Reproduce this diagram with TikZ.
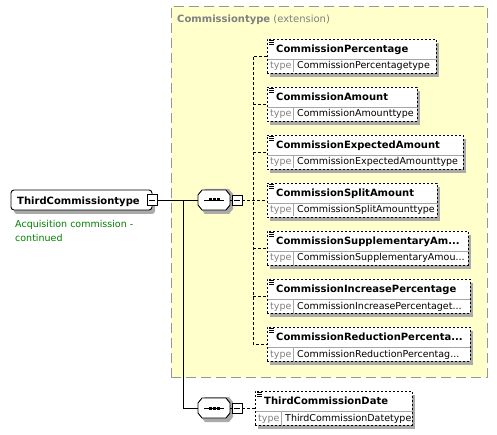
\documentclass[tikz,border=0pt]{standalone}
\usepackage{fontspec}
\setmainfont{DejaVu Sans}
\usetikzlibrary{shadows}
\definecolor{ybg}{RGB}{255,255,204}
\definecolor{ybd}{RGB}{150,150,150}
\definecolor{shd}{RGB}{170,170,170}
\definecolor{tgray}{RGB}{128,128,128}
\definecolor{dgreen}{RGB}{0,128,0}
\tikzset{
  shad/.style={drop shadow={shadow xshift=3pt,shadow yshift=-4pt,fill=shd,opacity=1}},
  ybox/.style={draw=ybd,fill=ybg,line width=0.9pt,dash pattern=on 10pt off 5pt,inner sep=0pt,outer sep=0pt},
  elembox/.style={draw=black,fill=white,line width=0.9pt,dash pattern=on 2pt off 2pt,inner sep=0pt,outer sep=0pt,shad},
  gtbox/.style={draw=black,fill=white,line width=0.9pt,rounded corners=3pt,inner sep=0pt,outer sep=0pt,shad},
  divline/.style={draw=gray!70,line width=0.7pt},
  iconline/.style={draw=black,line width=0.6pt},
  nametext/.style={font=\fontsize{10}{12}\selectfont\bfseries,inner sep=0pt},
  typelbl/.style={font=\fontsize{9.5}{11}\selectfont,text=tgray,inner sep=0pt},
  typetext/.style={font=\fontsize{9.5}{11}\selectfont,inner sep=0pt},
  desctext/.style={font=\fontsize{9.5}{11}\selectfont,text=dgreen,inner sep=0pt},
  minusbox/.style={draw=black,fill=white,line width=0.8pt,minimum width=10pt,minimum height=10pt,inner sep=0pt,outer sep=0pt},
  compnode/.style={minimum width=32pt,minimum height=20pt,inner sep=0pt,outer sep=0pt},
  solidconn/.style={draw=black,line width=0.9pt},
  dashconn/.style={draw=black,line width=0.9pt,dash pattern=on 3pt off 2pt},
}
% element box: id, left, top, right, name, type
\newcommand\elembx[6]{%
  \node[elembox,anchor=north west,minimum width={(#4-#2)*1pt},minimum height=34pt] (#1) at (#2,#3) {};
  \draw[divline] (#2+0.5,#3+20) -- (#4-0.5,#3+20);
  \draw[divline] (#2+26,#3+20) -- (#2+26,#3+33.5);
  \draw[iconline] (#2+2,#3+1.5) -- ++(5,0) (#2+2,#3+3.5) -- ++(5,0) (#2+2,#3+5.5) -- ++(5,0);
  \node[nametext,anchor=base west] (#1n) at (#2+9,#3+13.5) {#5};
  \node[typelbl,anchor=base west] (#1t) at (#2+3,#3+30) {type};
  \node[typetext,anchor=base west] (#1v) at (#2+30,#3+30) {#6};
}
% sequence compositor: id, cx, cy
\newcommand\seqcomp[3]{%
  \fill[shd] (#2-13,#3-6) -- (#2-9,#3-11) -- (#2+15,#3-11) -- (#2+19,#3-6) -- (#2+19,#3+9) -- (#2+15,#3+14) -- (#2-9,#3+14) -- (#2-13,#3+9) -- cycle;
  \node[compnode] (#1) at (#2,#3) {};
  \draw[fill=white,line width=0.9pt] (#2-16,#3-5) -- (#2-12,#3-10) -- (#2+12,#3-10) -- (#2+16,#3-5) -- (#2+16,#3+5) -- (#2+12,#3+10) -- (#2-12,#3+10) -- (#2-16,#3+5) -- cycle;
  \draw[line width=0.9pt] (#2-10,#3) -- (#2+10,#3);
  \fill (#2-5.5,#3-1.5) rectangle ++(3,3);
  \fill (#2-1.5,#3-1.5) rectangle ++(3,3);
  \fill (#2+2.5,#3-1.5) rectangle ++(3,3);
  \node[minusbox] (#1m) at (#2+23,#3) {};
  \draw[line width=0.8pt] (#2+20,#3) -- (#2+26,#3);
  \draw[solidconn] (#1.east) -- (#1m.west);
}
\begin{document}
\begin{tikzpicture}[x=1pt,y=-1pt]
\useasboundingbox (0,0) rectangle (497,435);
% extension box
\node[ybox,anchor=north west,minimum width=316pt,minimum height=371pt] (ext) at (171,6) {};
\node[anchor=base west,inner sep=0pt,text=tgray,font=\fontsize{10}{12}\selectfont] (exttitle) at (177,23) {\textbf{Commissiontype} (extension)};

% main type
\node[gtbox,minimum width=141pt,minimum height=20pt] (tct) at (81.5,200) {};
\node[nametext,anchor=base west] (tctn) at (17,204.5) {ThirdCommissiontype};
\node[minusbox,minimum height=11pt] (tctm) at (152,200) {};
\draw[line width=0.8pt] (149,200) -- (155,200);
\node[desctext,anchor=base west] (desc1) at (15,228) {Acquisition commission -};
\node[desctext,anchor=base west] (desc2) at (15,242) {continued};

% compositors
\seqcomp{q1}{214}{200}
\seqcomp{q2}{214}{408}

% children
\elembx{c1}{267}{39}{436}{CommissionPercentage}{CommissionPercentagetype}
\elembx{c2}{267}{87}{417}{CommissionAmount}{CommissionAmounttype}
\elembx{c3}{267}{135}{463}{CommissionExpectedAmount}{CommissionExpectedAmounttype}
\elembx{c4}{267}{183}{437}{CommissionSplitAmount}{CommissionSplitAmounttype}
\elembx{c5}{267}{231}{468}{CommissionSupplementaryAm...}{CommissionSupplementaryAmou...}
\elembx{c6}{267}{279}{470}{CommissionIncreasePercentage}{CommissionIncreasePercentaget...}
\elembx{c7}{267}{327}{470}{CommissionReductionPercenta...}{CommissionReductionPercentag...}
\elembx{tcd}{255}{391}{412}{ThirdCommissionDate}{ThirdCommissionDatetype}

% connectors
\coordinate (j1) at (183,200);
\coordinate (bus) at (253,200);
\draw[solidconn] (tctm.east) -- (q1.west);
\draw[solidconn] (j1) |- (q2.west);
\draw[dashconn] (q1m.east) -- (c4.west);
\draw[dashconn] (c1.west) -| (bus) |- (c7.west);
\draw[dashconn] (bus |- c2.west) -- (c2.west);
\draw[dashconn] (bus |- c3.west) -- (c3.west);
\draw[dashconn] (bus |- c5.west) -- (c5.west);
\draw[dashconn] (bus |- c6.west) -- (c6.west);
\draw[dashconn] (q2m.east) -- (tcd.west);
\end{tikzpicture}
\end{document}
